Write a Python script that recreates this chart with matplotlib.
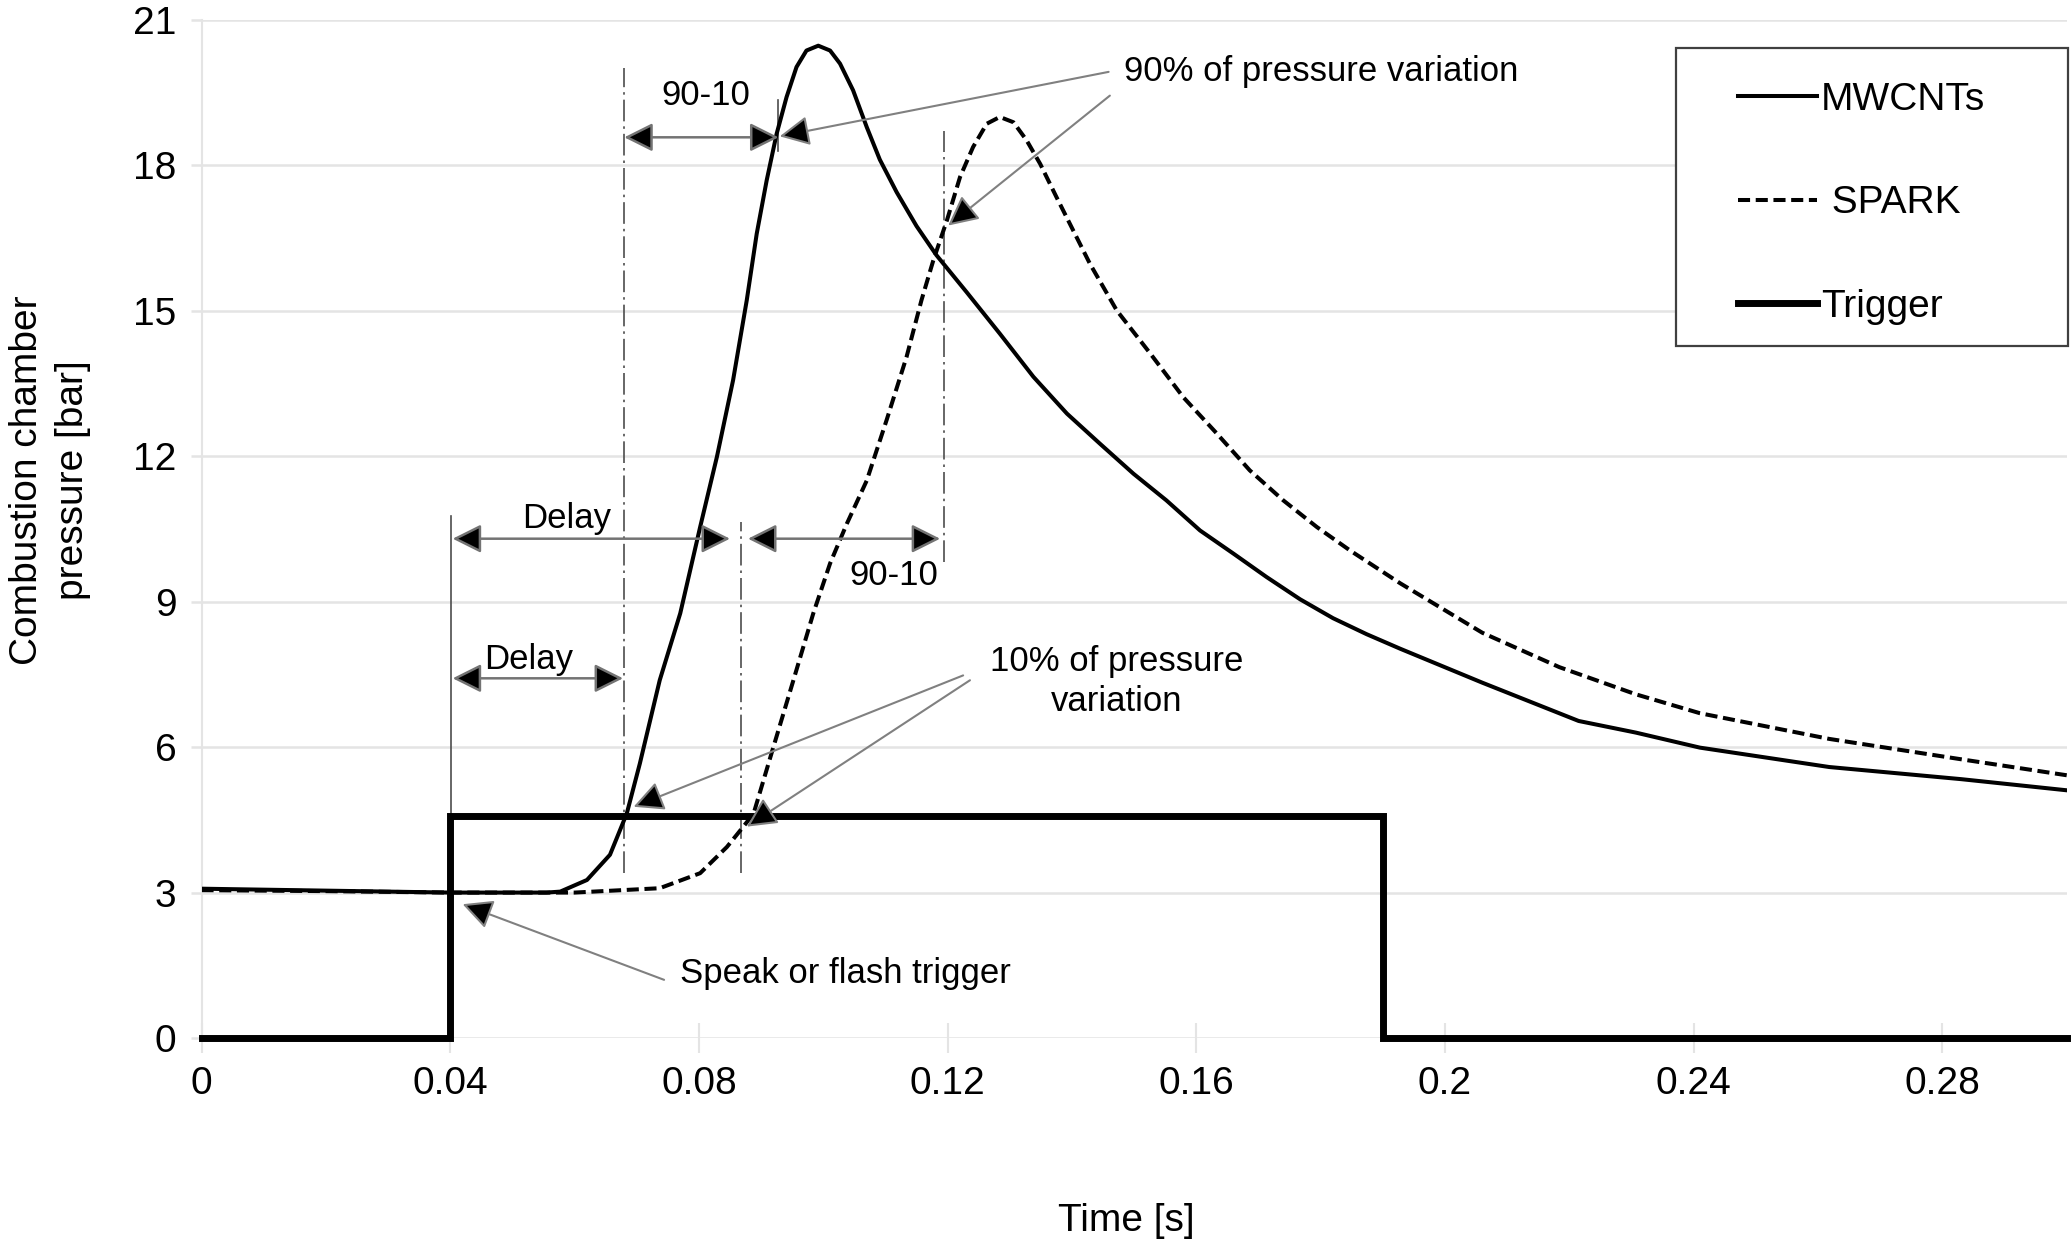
import matplotlib
matplotlib.use("Agg")
from matplotlib import pyplot as plt
from matplotlib.patches import Rectangle

plt.rcParams['font.family'] = ['Liberation Sans', 'DejaVu Sans']

# pressure traces (time in s, pressure in bar)
t_mwcnt = [0.0, 0.02, 0.04, 0.05, 0.0555, 0.0577, 0.062, 0.0657, 0.0684, 0.0705,
           0.0737, 0.077, 0.0802, 0.0829, 0.0855, 0.0877, 0.0893, 0.0909, 0.0925,
           0.0941, 0.0957, 0.0973, 0.0992, 0.1011, 0.1027, 0.1048, 0.107, 0.1091,
           0.1118, 0.115, 0.1182, 0.1231, 0.1284, 0.1338, 0.1392, 0.1445, 0.1499,
           0.1552, 0.1606, 0.166, 0.1713, 0.1767, 0.182, 0.1874, 0.1928, 0.206,
           0.2215, 0.2307, 0.241, 0.2618, 0.283, 0.30]
p_mwcnt = [3.08, 3.04, 3.0, 3.0, 3.0, 3.02, 3.26, 3.78, 4.63, 5.66,
           7.38, 8.76, 10.54, 11.99, 13.57, 15.22, 16.59, 17.69, 18.65,
           19.41, 20.03, 20.37, 20.47, 20.37, 20.1, 19.55, 18.79, 18.12,
           17.45, 16.75, 16.15, 15.38, 14.53, 13.64, 12.88, 12.26, 11.64,
           11.09, 10.47, 9.99, 9.51, 9.05, 8.66, 8.33, 8.03, 7.33,
           6.54, 6.3, 5.99, 5.59, 5.34, 5.11]

t_spark = [0.0, 0.02, 0.04, 0.06, 0.0737, 0.0802, 0.0845, 0.0869, 0.0888, 0.0904,
           0.092, 0.0952, 0.0984, 0.1011, 0.1038, 0.107, 0.1102, 0.1134, 0.1158,
           0.1177, 0.1199, 0.122, 0.1241, 0.1263, 0.1284, 0.1306, 0.1327, 0.1349,
           0.1375, 0.1402, 0.1429, 0.1472, 0.1526, 0.1579, 0.1633, 0.1686, 0.174,
           0.1794, 0.1847, 0.1928, 0.206, 0.2184, 0.2307, 0.241, 0.2618, 0.283, 0.30]
p_spark = [3.05, 3.03, 3.0, 3.0, 3.09, 3.4, 3.94, 4.32, 4.63, 5.32,
           6.01, 7.38, 8.76, 9.79, 10.61, 11.5, 12.75, 14.05, 15.22,
           16.04, 16.87, 17.76, 18.38, 18.86, 19.0, 18.89, 18.52, 18.03,
           17.35, 16.66, 15.97, 15.01, 14.12, 13.22, 12.47, 11.71, 11.09,
           10.54, 10.06, 9.38, 8.36, 7.65, 7.09, 6.7, 6.17, 5.75, 5.42]

t_trigger = [0.0, 0.04, 0.04, 0.19, 0.19, 0.30]
p_trigger = [0.0, 0.0, 4.58, 4.58, 0.0, 0.0]

# characteristic instants marked on the chart
t_on = 0.0402
t10_mw, t90_mw = 0.068, 0.0928
t10_sp, t90_sp = 0.0868, 0.1194
p90_mw = 18.58
delay_level = 10.3
delay_level_mw = 7.42

x_ticks = [0, 0.04, 0.08, 0.12, 0.16, 0.2, 0.24, 0.28]
x_labels = ["0", "0.04", "0.08", "0.12", "0.16", "0.2", "0.24", "0.28"]
y_ticks = [0, 3, 6, 9, 12, 15, 18, 21]

fig = plt.figure(figsize=(20.72, 12.43), dpi=100)
ax = fig.add_axes([0.09725, 0.16492, 0.9002, 0.81899])

grid_c = '#e4e4e4'
for s in ['top', 'right', 'bottom']:
    ax.spines[s].set_visible(False)
ax.spines['left'].set_color(grid_c)
ax.spines['left'].set_linewidth(1.5)
ax.set_axisbelow(True)
ax.yaxis.grid(True, color=grid_c, lw=1.8)

ax.plot(t_mwcnt, p_mwcnt, color='black', lw=2.9, label='MWCNTs', zorder=3)
ax.plot(t_spark, p_spark, color='black', lw=2.9, dashes=(3, 1.4), label=' SPARK', zorder=3)
ax.plot(t_trigger, p_trigger, color='black', lw=5, label='Trigger', zorder=3,
        clip_on=False, solid_joinstyle='miter')

ax.set_xlim(0, 0.30)
ax.set_ylim(0, 21)
ax.set_xticks(x_ticks)
ax.set_xticklabels(x_labels)
ax.set_yticks(y_ticks)
ax.tick_params(axis='x', direction='inout', length=21, width=1.5, color=grid_c,
               labelsize=28, pad=10)
ax.tick_params(axis='y', direction='out', length=8, width=1.8, color=grid_c,
               labelsize=28, pad=10)

# marker lines
dd = dict(color='0.3', lw=1.2, dashes=(13, 3, 1.5, 3), zorder=2)
ax.plot([t10_mw, t10_mw], [3.4, 20.0], **dd)
ax.plot([t10_sp, t10_sp], [3.4, 10.64], **dd)
ax.plot([t90_sp, t90_sp], [9.82, 18.72], **dd)
ax.plot([t_on, t_on], [4.58, 10.76], color='0.3', lw=1.2, zorder=2)
ax.plot([t90_mw, t90_mw], [18.3, 19.34], color='0.3', lw=1.2, zorder=2)

# double arrows
dbl = dict(arrowstyle='<|-|>', fc='black', ec='0.45', lw=1.8, mutation_scale=44,
           shrinkA=0, shrinkB=0)
ax.annotate('', xy=(t90_mw, p90_mw), xytext=(t10_mw, p90_mw), arrowprops=dbl)
ax.annotate('', xy=(0.085, delay_level), xytext=(0.0404, delay_level), arrowprops=dbl)
ax.annotate('', xy=(0.1188, delay_level), xytext=(0.0879, delay_level), arrowprops=dbl)
ax.annotate('', xy=(0.0678, delay_level_mw), xytext=(0.0404, delay_level_mw), arrowprops=dbl)

fs = 25
ax.text(0.0811, 19.45, '90-10', fontsize=fs, ha='center', va='center')
ax.text(0.0588, 10.72, 'Delay', fontsize=fs, ha='center', va='center')
ax.text(0.1113, 9.55, '90-10', fontsize=fs, ha='center', va='center')
ax.text(0.0526, 7.8, 'Delay', fontsize=fs, ha='center', va='center')

# callouts
co = dict(arrowstyle='-|>', fc='black', ec='0.5', lw=1.5, mutation_scale=46,
          shrinkA=0, shrinkB=0)
ax.text(0.1483, 19.93, '90% of pressure variation', fontsize=fs, ha='left', va='center')
ax.annotate('', xy=(0.0930, 18.6), xytext=(0.1459, 19.93), arrowprops=co)
ax.annotate('', xy=(0.1201, 16.76), xytext=(0.1461, 19.44), arrowprops=co)

ax.text(0.1472, 7.35, '10% of pressure\nvariation', fontsize=fs, ha='center',
        va='center', multialignment='center', linespacing=1.25)
ax.annotate('', xy=(0.0695, 4.77), xytext=(0.1225, 7.48), arrowprops=co)
ax.annotate('', xy=(0.0877, 4.36), xytext=(0.1236, 7.38), arrowprops=co)

ax.text(0.077, 1.33, 'Speak or flash trigger', fontsize=fs, ha='left', va='center')
ax.annotate('', xy=(0.042, 2.76), xytext=(0.0744, 1.2), arrowprops=co)

# legend box
ax.add_patch(Rectangle((0.7905, 0.6798), 0.21, 0.2927, transform=ax.transAxes,
                       fc='white', ec='0.25', lw=1.6, zorder=4, clip_on=False))
leg = ax.legend(loc='upper left', bbox_to_anchor=(0.8238, 0.9395), frameon=False,
                fontsize=28, borderpad=0, borderaxespad=0, handlelength=2.03,
                handletextpad=0.1, labelspacing=1.74)
leg.set_zorder(5)

fig.text(0.024, 0.6138, 'Combustion chamber\npressure [bar]', fontsize=28,
         rotation=90, ha='center', va='center', multialignment='center',
         linespacing=1.35)
fig.text(0.5434, 0.018, 'Time [s]', fontsize=28, ha='center', va='center')

fig.savefig('out.png', dpi=100)
